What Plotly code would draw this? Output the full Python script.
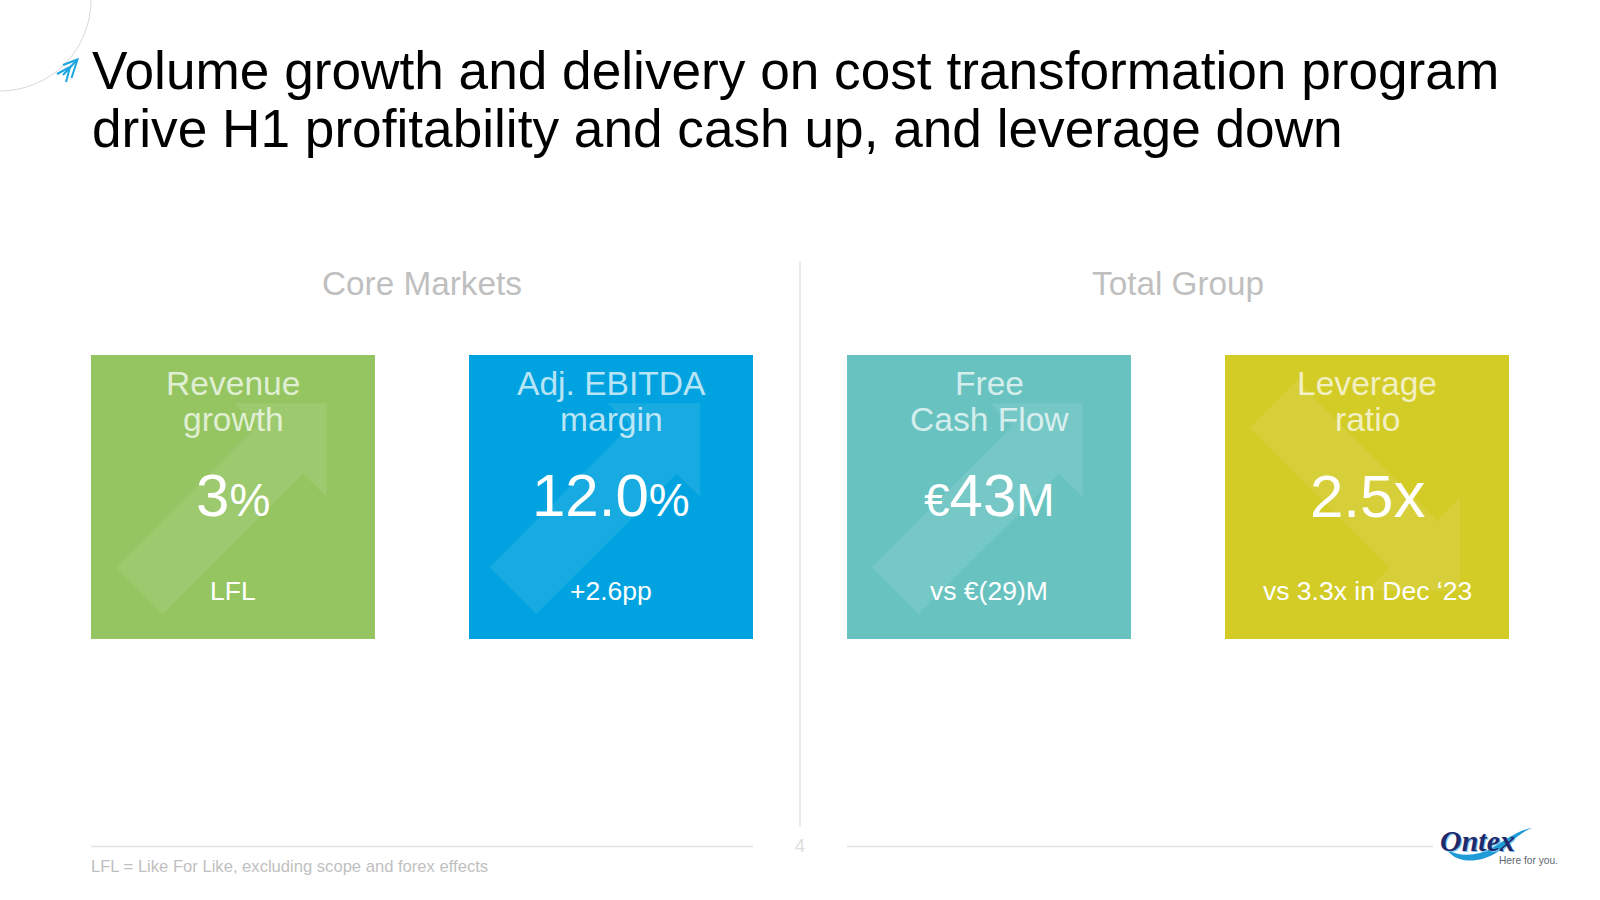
import plotly.graph_objects as go

TITLE_LINES = ['Volume growth and delivery on cost transformation program',
               'drive H1 profitability and cash up, and leverage down']
GROUPS = ['Core Markets', 'Total Group']
HEADERS = [['Revenue', 'growth'], ['Adj. EBITDA', 'margin'],
           ['Free', 'Cash Flow'], ['Leverage', 'ratio']]
VALUES = ['3', '12.0', '43', '2.5']
PREFIXES = ['', '', '€', '']
SUFFIXES = ['%', '%', 'M', 'x']
SUFFIX_SIZES = [46, 46, 46, 64]
NOTES = ['LFL', '+2.6pp', 'vs €(29)M', 'vs 3.3x in Dec ‘23']
COLORS = ['#94C561', '#00A3E0', '#68C3C0', '#D3CB26']
FOOTNOTE = 'LFL = Like For Like, excluding scope and forex effects'
PAGE_NUMBER = '4'

FONT = 'Liberation Sans'
TILE_LEFT = [91, 469, 847, 1225]
TILE_TOP = 355
TILE_SIZE = 284
ARROW_SHIFT = [0, -4.5, 0]

# outline of the pale arrows, relative to the tile corner
ARROW_UP = [(143.3, 48.3), (235.7, 48.3), (235.7, 141.7), (212, 119),
            (71.7, 259), (25, 212.3), (165.7, 71)]
ARROW_DOWN = [(235, 142.3), (235, 235.7), (141.7, 235.7), (165, 213),
              (25, 72.3), (72.3, 25.7), (212, 165.7)]


def path(points):
    return 'M ' + ' L '.join(f'{x},{y}' for x, y in points) + ' Z'


def text(fig, x, y, label, size, color, anchor='center', font=FONT):
    fig.add_annotation(x=x, y=y, text=label, showarrow=False, xanchor=anchor,
                       yanchor='middle', align=anchor,
                       font=dict(family=font, size=size, color=color))


def add_tile(fig, i):
    left = TILE_LEFT[i]
    centre = left + TILE_SIZE / 2
    fig.add_shape(type='rect', x0=left, x1=left + TILE_SIZE, y0=TILE_TOP,
                  y1=TILE_TOP + TILE_SIZE, fillcolor=COLORS[i],
                  line_width=0, layer='below')
    if i < 3:
        points = [(left + ARROW_SHIFT[i] + x, TILE_TOP + y)
                  for x, y in ARROW_UP]
    else:
        points = [(left + x, TILE_TOP + y) for x, y in ARROW_DOWN]
    fig.add_shape(type='path', path=path(points), line_width=0, layer='below',
                  fillcolor='rgba(255,255,255,0.09)')

    header_color = 'rgba(255,255,255,0.72)'
    text(fig, centre, 383, HEADERS[i][0], 33.6, header_color)
    text(fig, centre, 419.6, HEADERS[i][1], 33.6, header_color)
    small = '<span style="font-size:%dpx">%%s</span>' % SUFFIX_SIZES[i]
    prefix = '<span style="font-size:46px">%s</span>' % PREFIXES[i]
    label = (prefix if PREFIXES[i] else '') + VALUES[i] + small % SUFFIXES[i]
    text(fig, centre, 495, label, 60, 'white')
    text(fig, centre, 591, NOTES[i], 26.5, 'white')


def add_logo(fig):
    # swoosh under the word mark
    fig.add_shape(type='path', line_width=0, fillcolor='#1F9BD7',
                  path='M 1447,850 C 1456,863 1478,864 1496,853 '
                       'C 1510,844 1520,832 1532,828 '
                       'C 1518,830 1506,840 1492,848 '
                       'C 1478,856 1460,857 1447,850 Z')
    text(fig, 1478.5, 841, '<b><i>Ontex</i></b>', 30, '#7FC4E8',
         font='Liberation Serif')
    text(fig, 1477.5, 840, '<b><i>Ontex</i></b>', 30, '#1F2A6D',
         font='Liberation Serif')
    text(fig, 1497, 860, 'Here for you.', 10.2, '#5B6770', anchor='left')


def main():
    fig = go.Figure()

    # corner circle and the small double arrow
    fig.add_shape(type='circle', x0=-91, x1=91, y0=-91, y1=91,
                  line=dict(color='#D9D9D9', width=1))
    for chevron in [[(63, 65), (77.5, 59.5), (71.5, 78)],
                    [(57, 74), (70, 67), (66, 82)]]:
        fig.add_shape(type='path', path=path(chevron).replace(' Z', ''),
                      line=dict(color='#1BA5E0', width=2))
    fig.add_shape(type='line', x0=63, y0=75, x1=77, y1=60,
                  line=dict(color='#1BA5E0', width=2))

    text(fig, 90, 70, TITLE_LINES[0], 53.2, 'black', anchor='left')
    text(fig, 90, 128, TITLE_LINES[1], 53.2, 'black', anchor='left')

    text(fig, 421.5, 283, GROUPS[0], 33.3, '#BFBFBF')
    text(fig, 1177.5, 283, GROUPS[1], 33.3, '#BFBFBF')

    fig.add_shape(type='line', x0=800, x1=800, y0=261, y1=827,
                  line=dict(color='#E3E3E3', width=1.5))
    fig.add_shape(type='line', x0=91, x1=753, y0=846.5, y1=846.5,
                  line=dict(color='#E3E3E3', width=1.5))
    fig.add_shape(type='line', x0=847, x1=1433, y0=846.5, y1=846.5,
                  line=dict(color='#E3E3E3', width=1.5))

    for i in range(len(HEADERS)):
        add_tile(fig, i)

    text(fig, 800, 846, PAGE_NUMBER, 18, '#DDDDDD')
    text(fig, 89, 866, FOOTNOTE, 16.6, '#BFBFBF', anchor='left')
    add_logo(fig)

    fig.update_layout(width=1600, height=900, showlegend=False,
                      margin=dict(l=0, r=0, t=0, b=0),
                      paper_bgcolor='white', plot_bgcolor='white')
    fig.update_xaxes(visible=False, range=[0, 1600], fixedrange=True)
    fig.update_yaxes(visible=False, range=[900, 0], fixedrange=True)
    # the page default of 8px would push the whole slide off the grid
    fig.write_html('out.html', config={'displayModeBar': False},
                   post_script="document.body.style.margin='0';")


if __name__ == '__main__':
    main()
